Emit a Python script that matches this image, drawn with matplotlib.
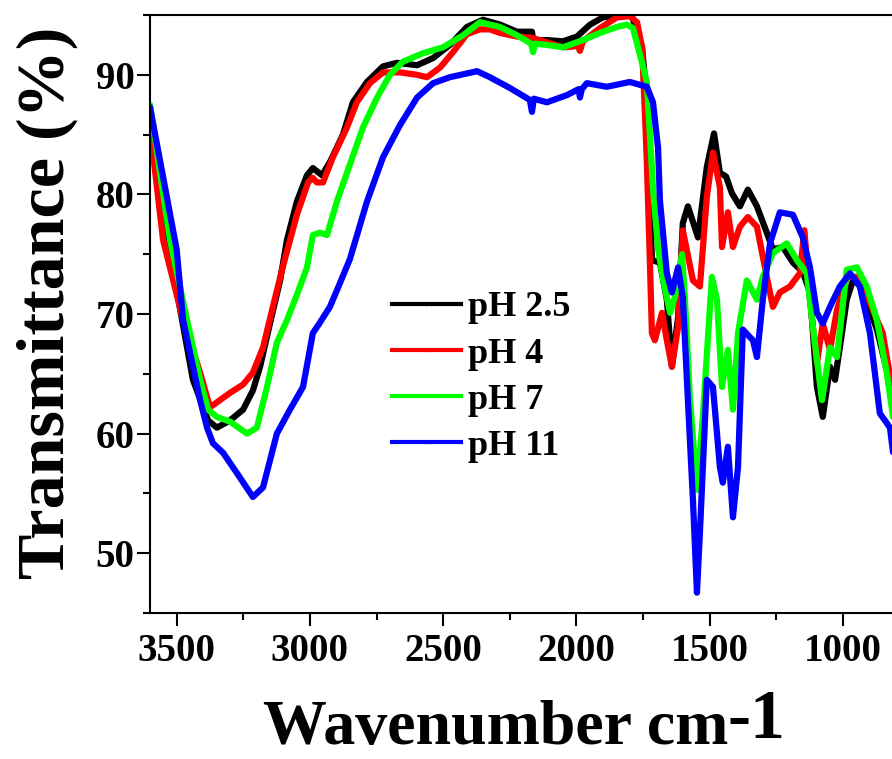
import matplotlib
matplotlib.use("Agg")
import matplotlib.pyplot as plt
from matplotlib.lines import Line2D
from matplotlib.ticker import MultipleLocator

plt.rcParams["font.family"] = ["Liberation Serif", "DejaVu Serif"]
plt.rcParams["font.weight"] = "bold"

# FTIR spectra (wavenumber cm-1, transmittance %)
wn_25 = [3600, 3544, 3500, 3439, 3382, 3349, 3300, 3251, 3214, 3187, 3150, 3112, 3086, 3049,
         3011, 2989, 2955, 2925, 2876, 2839, 2786, 2726, 2674, 2598, 2538, 2475, 2411, 2351,
         2287, 2223, 2167, 2163, 2111, 2051, 1998, 1949, 1901, 1826, 1792, 1754, 1736, 1717,
         1687, 1661, 1642, 1619, 1601, 1582, 1544, 1511, 1484, 1462, 1439, 1417, 1387, 1357,
         1323, 1286, 1263, 1226, 1188, 1151, 1124, 1098, 1076, 1049, 1030, 1012, 986, 963,
         926, 899, 873, 836, 810]
t_25 = [86.0, 76.2, 72.0, 64.5, 61.1, 60.5, 61.1, 62.0, 63.6, 65.6, 69.2, 72.8, 76.2, 79.4,
        81.6, 82.2, 81.6, 82.7, 85.0, 87.7, 89.4, 90.7, 91.0, 90.8, 91.4, 92.5, 94.0, 94.6,
        94.2, 93.6, 93.6, 92.9, 92.9, 92.8, 93.2, 94.2, 94.8, 95.0, 94.9, 92.3, 87.9, 74.5,
        74.3, 71.2, 65.6, 69.7, 77.6, 79.0, 76.4, 82.3, 85.1, 81.8, 81.5, 80.1, 79.0, 80.4,
        79.0, 76.8, 75.4, 75.6, 74.3, 73.5, 71.8, 63.9, 61.4, 65.6, 64.5, 67.2, 71.2, 72.8,
        72.3, 70.3, 68.7, 65.3, 62.5]

wn_4 = [3600, 3551, 3476, 3412, 3375, 3300, 3251, 3214, 3176, 3139, 3101, 3049, 3007, 2990,
        2974, 2951, 2914, 2861, 2824, 2775, 2726, 2662, 2598, 2561, 2512, 2463, 2411, 2362,
        2325, 2287, 2223, 2167, 2051, 1995, 1987, 1976, 1912, 1848, 1800, 1773, 1754, 1743,
        1736, 1724, 1717, 1706, 1679, 1661, 1642, 1619, 1601, 1563, 1537, 1511, 1488, 1462,
        1454, 1432, 1413, 1387, 1357, 1323, 1286, 1263, 1237, 1199, 1162, 1145, 1124, 1098,
        1076, 1049, 1023, 986, 937, 888, 851, 810]
t_4 = [85.6, 76.2, 69.5, 65.1, 62.2, 63.4, 64.1, 65.1, 67.2, 70.6, 74.0, 78.3, 81.0, 81.4,
       81.0, 81.0, 83.1, 85.6, 87.7, 89.3, 90.2, 90.2, 90.0, 89.8, 90.6, 91.9, 93.4, 93.8,
       93.8, 93.5, 93.2, 93.1, 92.3, 92.4, 92.0, 92.8, 93.9, 94.8, 94.9, 94.4, 92.3, 86.7,
       82.7, 73.9, 68.4, 67.8, 70.1, 67.8, 65.6, 68.9, 77.0, 72.8, 72.3, 79.8, 83.5, 80.6,
       75.6, 78.5, 75.6, 77.3, 78.1, 77.3, 73.1, 70.6, 71.8, 72.3, 73.4, 77.0, 71.2, 65.9,
       69.2, 67.0, 70.3, 73.1, 73.1, 70.3, 68.4, 63.0]

wn_7 = [3600, 3525, 3461, 3412, 3382, 3349, 3300, 3236, 3199, 3161, 3124, 3086, 3049, 3011,
        2989, 2962, 2936, 2899, 2850, 2801, 2748, 2700, 2651, 2576, 2501, 2426, 2362, 2325,
        2287, 2223, 2170, 2163, 2155, 2111, 2051, 1976, 1912, 1848, 1811, 1788, 1762, 1736,
        1713, 1694, 1676, 1649, 1630, 1604, 1593, 1574, 1548, 1526, 1492, 1473, 1454, 1432,
        1413, 1394, 1361, 1323, 1301, 1263, 1211, 1173, 1136, 1113, 1079, 1049, 1023, 986,
        948, 911, 873, 836, 810]
t_7 = [87.5, 76.2, 69.5, 64.5, 62.0, 61.4, 61.0, 60.0, 60.5, 63.9, 67.6, 69.5, 71.6, 73.9,
       76.6, 76.8, 76.6, 79.4, 82.5, 85.6, 88.1, 90.0, 91.1, 91.8, 92.3, 93.3, 94.4, 94.2,
       94.0, 93.3, 92.6, 91.9, 92.6, 92.5, 92.3, 92.9, 93.5, 94.0, 94.2, 93.9, 91.7, 89.4,
       80.5, 75.5, 73.0, 70.1, 71.5, 75.0, 71.2, 62.8, 55.3, 61.4, 73.1, 71.2, 63.9, 67.0,
       62.0, 68.4, 72.8, 71.2, 73.1, 75.1, 75.9, 74.5, 73.4, 68.9, 62.8, 67.2, 66.4, 73.7,
       73.9, 72.3, 69.5, 65.1, 61.0]

wn_11 = [3600, 3500, 3476, 3412, 3386, 3364, 3326, 3274, 3214, 3176, 3124, 3075, 3026, 2989,
         2962, 2925, 2887, 2850, 2786, 2726, 2662, 2598, 2538, 2475, 2373, 2325, 2250, 2175,
         2167, 2160, 2111, 2036, 1992, 1987, 1980, 1961, 1886, 1800, 1736, 1713, 1694, 1687,
         1661, 1642, 1619, 1601, 1582, 1563, 1548, 1537, 1511, 1488, 1462, 1451, 1432, 1413,
         1394, 1376, 1338, 1323, 1301, 1274, 1237, 1188, 1151, 1124, 1098, 1076, 1049, 1012,
         974, 937, 899, 862, 824, 810]
t_11 = [87.3, 75.4, 69.5, 62.8, 60.5, 59.2, 58.4, 56.7, 54.7, 55.5, 60.0, 62.0, 63.9, 68.4,
        69.3, 70.6, 72.6, 74.6, 79.4, 83.1, 85.8, 88.1, 89.3, 89.8, 90.3, 89.8, 88.9, 87.9,
        86.9, 88.0, 87.7, 88.3, 88.8, 88.1, 88.8, 89.3, 89.0, 89.4, 89.0, 87.7, 83.9, 79.5,
        73.4, 71.8, 73.9, 71.4, 62.8, 54.4, 46.7, 51.7, 64.5, 63.9, 57.2, 55.9, 58.9, 53.0,
        57.2, 68.7, 67.8, 66.4, 71.2, 75.9, 78.5, 78.3, 76.4, 73.9, 70.1, 69.2, 70.6, 72.3,
        73.4, 72.3, 68.4, 61.7, 60.5, 58.0]

labels = ["pH 2.5", "pH 4", "pH 7", "pH 11"]
colors = ["#000000", "#ff0000", "#00ff00", "#0000ff"]
series = [(wn_25, t_25), (wn_4, t_4), (wn_7, t_7), (wn_11, t_11)]

fig = plt.figure(figsize=(8.92, 7.59), dpi=100)
ax = fig.add_axes([150 / 892, 146 / 759, 773 / 892, 598 / 759])

for (wn, t), c in zip(series, colors):
    ax.plot(wn, t, color=c, lw=4.5, solid_joinstyle="round", solid_capstyle="round")

ax.set_xlim(3600, 700)
ax.set_ylim(45, 95)
ax.xaxis.set_major_locator(MultipleLocator(500))
ax.xaxis.set_minor_locator(MultipleLocator(250))
ax.yaxis.set_major_locator(MultipleLocator(10))
ax.yaxis.set_minor_locator(MultipleLocator(5))
ax.tick_params(which="major", direction="out", length=9.5, width=1.5, labelsize=28)
ax.tick_params(which="minor", direction="out", length=5, width=1.5)
ax.tick_params(axis="x", pad=5)
ax.tick_params(axis="y", pad=1.5)
for lab in ax.get_xticklabels() + ax.get_yticklabels():
    lab.set_fontweight("bold")
for side in ["left", "bottom", "top"]:
    ax.spines[side].set_linewidth(1.5)
ax.spines["right"].set_visible(False)

handles = [Line2D([], [], color=c, lw=3, marker="o", markersize=1.5, markevery=[1])
           for c in colors]
ax.legend(handles, labels, loc="upper left", bbox_to_anchor=(392 / 892, 1 - 291 / 759),
          bbox_transform=fig.transFigure, frameon=False, borderpad=0, borderaxespad=0,
          handlelength=1.9, handletextpad=0.2, labelspacing=0.36,
          prop={"weight": "bold", "size": 26})

fig.text(47 / 892, 1 - 303 / 759, "Transmittance (%)", rotation=90, ha="center",
         va="center", fontsize=49, fontweight="bold")
fig.text(263 / 892, 1 - 744 / 759, "Wavenumber cm", ha="left", va="baseline",
         fontsize=46, fontweight="bold")
fig.text(727 / 892, 1 - 738 / 759, "-1", ha="left", va="baseline",
         fontsize=50, fontweight="bold")

fig.savefig("out.png", dpi=100)
